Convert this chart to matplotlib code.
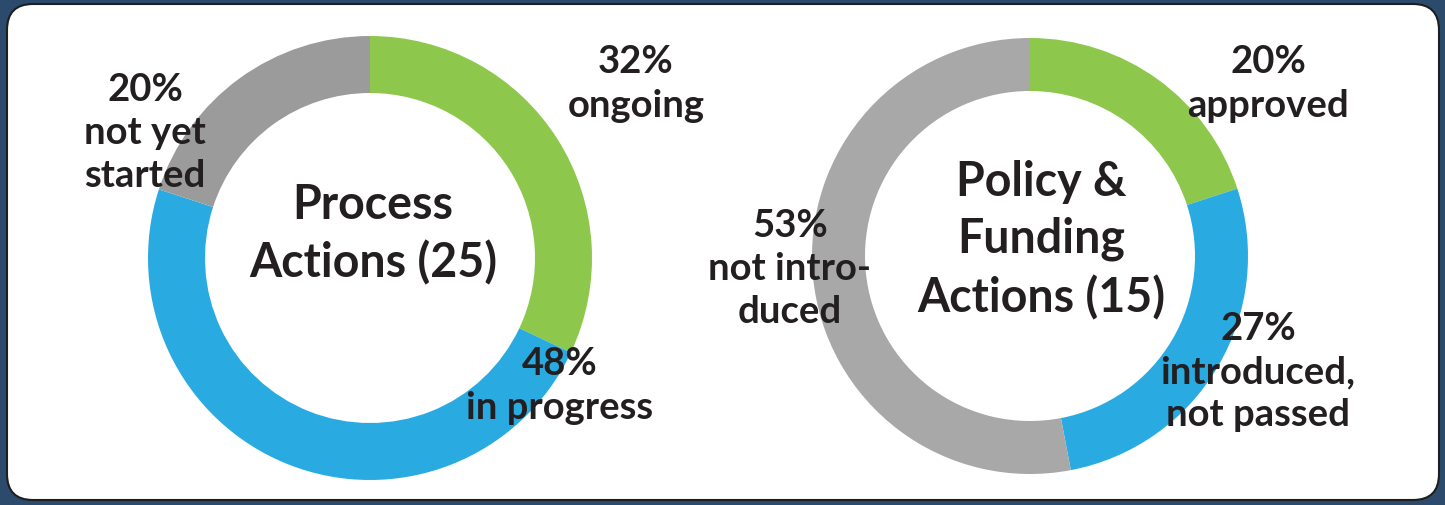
import matplotlib
matplotlib.use("Agg")
import matplotlib.pyplot as plt
from matplotlib.patches import FancyBboxPatch

W, H = 1445, 506

# Data
process_labels = ["ongoing", "in progress", "not yet\nstarted"]
process_values = [32, 48, 20]
process_title = "Process\nActions (25)"

policy_labels = ["approved", "introduced,\nnot passed", "not intro-\nduced"]
policy_values = [20, 27, 53]
policy_title = "Policy &\nFunding\nActions (15)"

green, blue = "#8dc84c", "#29abe2"
gray1, gray2 = "#9b9b9b", "#a8a8a8"
navy = "#2c4a6b"
txt = "#231f20"
FONT = ["Lato", "DejaVu Sans"]

fig = plt.figure(figsize=(W / 100, H / 100), dpi=100, facecolor=navy)
ax = fig.add_axes([0, 0, 1, 1])
ax.set_axis_off()

def py(y):
    return H - y

box = FancyBboxPatch((7, py(501)), 1432, 496, boxstyle="round,pad=0,rounding_size=26",
                     facecolor="white", edgecolor="#1e1e1e", linewidth=1.5, zorder=0)
ax.add_patch(box)

def donut(values, colors, cx, cy, r, w):
    ax.pie(values, colors=colors, startangle=90, counterclock=False,
           radius=r, center=(cx, py(cy)), wedgeprops=dict(width=w, linewidth=0),
           frame=False)

donut(process_values, [green, blue, gray1], 370, 259, 222, 57)
donut(policy_values, [green, blue, gray2], 1030, 257, 218, 53)

def label(s, x, y, size=27.5, ls=1.33):
    ax.text(x, py(y), s, ha="center", va="center", fontsize=size,
            fontweight="bold", family=FONT, color=txt, linespacing=ls, zorder=5)

# Process labels
label(f"{process_values[0]}%\n{process_labels[0]}", 636, 84)
label(f"{process_values[1]}%\n{process_labels[1]}", 560, 386)
label(f"{process_values[2]}%\n{process_labels[2]}", 145, 133)
label(process_title, 373, 234, size=33.5, ls=1.36)

# Policy labels
label(f"{policy_values[0]}%\n{policy_labels[0]}", 1268, 84)
label(f"{policy_values[1]}%\n{policy_labels[1]}", 1258, 372)
label(f"{policy_values[2]}%\n{policy_labels[2]}", 790, 269)
label(policy_title, 1041, 240, size=33.5, ls=1.36)

ax.set_xlim(0, W)
ax.set_ylim(0, H)
ax.set_aspect("equal")
fig.savefig("out.png", dpi=100, facecolor=navy)
